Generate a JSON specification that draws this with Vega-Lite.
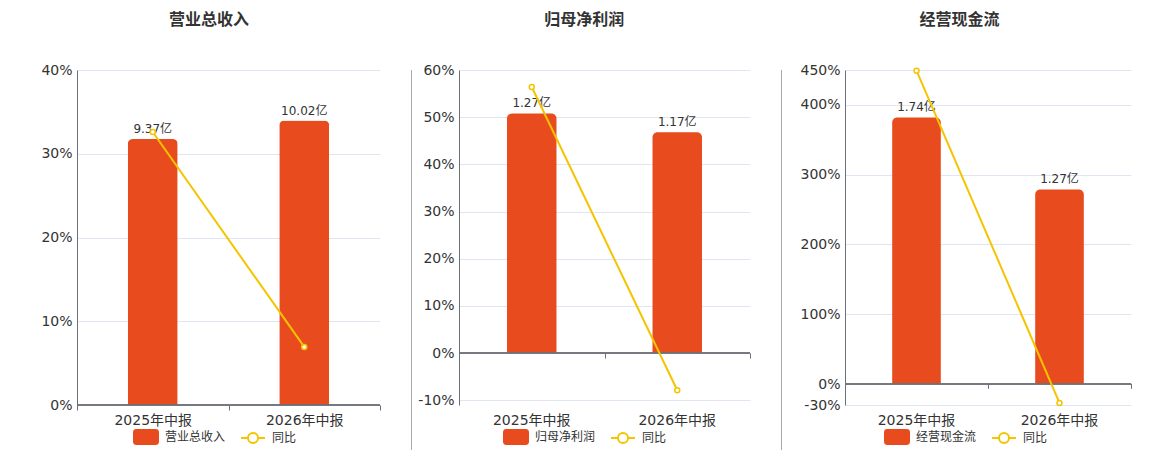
{
  "$schema": "https://vega.github.io/schema/vega-lite/v6.json",
  "padding": {"left": 37, "top": 12, "right": 5, "bottom": 0},
  "background": "#ffffff",
  "datasets": {
    "rev": [
      {"期": "2025年中报", "值": 9.37, "标签": "9.37亿", "同比": 32.6},
      {"期": "2026年中报", "值": 10.02, "标签": "10.02亿", "同比": 6.94}
    ],
    "profit": [
      {"期": "2025年中报", "值": 1.27, "标签": "1.27亿", "同比": 56.4},
      {"期": "2026年中报", "值": 1.17, "标签": "1.17亿", "同比": -7.87}
    ],
    "cash": [
      {"期": "2025年中报", "值": 1.74, "标签": "1.74亿", "同比": 449},
      {"期": "2026年中报", "值": 1.27, "标签": "1.27亿", "同比": -27.0}
    ]
  },
  "spacing": 5,
  "resolve": {"scale": {"color": "independent"}, "legend": {"color": "independent"}},
  "hconcat": [
    {
      "spacing": 30,
      "resolve": {"scale": {"color": "independent"}, "legend": {"color": "independent"}},
      "hconcat": [
        {
          "width": 303,
          "height": 335,
          "title": {"text": "营业总收入"},
          "data": {"name": "rev"},
          "layer": [
            {
              "encoding": {
                "x": {"field": "期", "type": "nominal", "sort": null,
                  "scale": {"paddingInner": 0, "paddingOuter": 0},
                  "axis": {"title": null, "labelAngle": 0, "domain": false, "ticks": true, "tickBand": "extent", "tickSize": 5, "tickColor": "#6E7079", "labelPadding": 3}},
                "y": {"field": "值", "type": "quantitative", "scale": {"domain": [0, 11.8], "nice": false, "zero": false}, "axis": null}},
              "layer": [
                {"mark": {"type": "bar", "width": {"band": 0.33}, "cornerRadiusTopLeft": 5, "cornerRadiusTopRight": 5},
                 "encoding": {"color": {"datum": "营业总收入", "type": "nominal",
                   "scale": {"domain": ["营业总收入", "同比"], "range": ["#E84C1E", "#F5C400"]},
                   "legend": {"title": null, "orient": "none", "legendX": 56, "legendY": 354, "padding": 0, "direction": "horizontal", "symbolSize": 576, "symbolStrokeWidth": 2, "labelFontSize": 12, "labelColor": "#333333", "labelOffset": 6, "columnPadding": 11,
                     "encode": {"symbols": {"update": {
                       "shape": {"signal": "datum.value === '同比' ? 'M-1,0L-0.42,0M0.42,0L1,0M0.42,0A0.42,0.42,0,1,1,-0.42,0A0.42,0.42,0,1,1,0.42,0' : 'M-0.8,-0.58L0.8,-0.58Q1,-0.58,1,-0.38L1,0.38Q1,0.58,0.8,0.58L-0.8,0.58Q-1,0.58,-1,0.38L-1,-0.38Q-1,-0.58,-0.8,-0.58Z'"},
                       "fill": {"signal": "datum.value === '同比' ? '#ffffff' : '#E84C1E'"},
                       "fillOpacity": {"signal": "datum.value === '同比' ? 0 : 1"},
                       "stroke": {"signal": "datum.value === '同比' ? '#F5C400' : 'transparent'"},
                       "strokeWidth": {"value": 2},
                       "opacity": {"value": 1}
                     }}}}}}},
                {"mark": {"type": "text", "baseline": "middle", "dy": -10, "fontSize": 12, "color": "#333333"},
                 "encoding": {"text": {"field": "标签"}}}
              ]
            },
            {
              "layer": [
                {"mark": {"type": "rule", "color": "#6E7079", "strokeWidth": 1.5},
                 "encoding": {"y": {"datum": 0, "type": "quantitative", "scale": {"domain": [0, 40], "nice": false}}}},
                {"mark": {"type": "line", "strokeWidth": 2},
                 "encoding": {
                   "x": {"field": "期", "type": "nominal", "sort": null},
                   "y": {"field": "同比", "type": "quantitative", "scale": {"domain": [0, 40], "nice": false},
                     "axis": {"title": null, "values": [0, 10, 20, 30, 40], "labelExpr": "datum.value + '%'", "grid": true, "ticks": false, "domain": true, "minExtent": 40, "maxExtent": 40}},
                   "color": {"datum": "同比", "type": "nominal"}}},
                {"mark": {"type": "point", "filled": true, "fill": "#ffffff", "stroke": "#F5C400", "strokeWidth": 1.5, "size": 25, "opacity": 1},
                 "encoding": {
                   "x": {"field": "期", "type": "nominal", "sort": null},
                   "y": {"field": "同比", "type": "quantitative"}}}
              ]
            }
          ],
          "resolve": {"scale": {"y": "independent"}}
        },
        {
          "width": 1, "height": 433,
          "data": {"values": []},
          "mark": "point",
          "encoding": {},
          "view": {"fill": "#A8A8A4", "stroke": null}
        }
      ]
    },
    {
      "spacing": 30,
      "resolve": {"scale": {"color": "independent"}, "legend": {"color": "independent"}},
      "hconcat": [
        {
          "width": 291,
          "height": 335,
          "title": {"text": "归母净利润"},
          "data": {"name": "profit"},
          "layer": [
            {
              "encoding": {
                "x": {"field": "期", "type": "nominal", "sort": null,
                  "scale": {"paddingInner": 0, "paddingOuter": 0},
                  "axis": {"title": null, "labelAngle": 0, "domain": false, "ticks": false, "labelPadding": 8}},
                "y": {"field": "值", "type": "quantitative", "scale": {"domain": [-0.275, 1.5], "nice": false, "zero": false}, "axis": null}},
              "layer": [
                {"mark": {"type": "bar", "width": {"band": 0.34}, "cornerRadiusTopLeft": 5, "cornerRadiusTopRight": 5},
                 "encoding": {
                   "y2": {"datum": 0},
                   "color": {"datum": "归母净利润", "type": "nominal",
                   "scale": {"domain": ["归母净利润", "同比"], "range": ["#E84C1E", "#F5C400"]},
                   "legend": {"title": null, "orient": "none", "legendX": 44, "legendY": 354, "padding": 0, "direction": "horizontal", "symbolSize": 576, "symbolStrokeWidth": 2, "labelFontSize": 12, "labelColor": "#333333", "labelOffset": 6, "columnPadding": 11,
                     "encode": {"symbols": {"update": {
                       "shape": {"signal": "datum.value === '同比' ? 'M-1,0L-0.42,0M0.42,0L1,0M0.42,0A0.42,0.42,0,1,1,-0.42,0A0.42,0.42,0,1,1,0.42,0' : 'M-0.8,-0.58L0.8,-0.58Q1,-0.58,1,-0.38L1,0.38Q1,0.58,0.8,0.58L-0.8,0.58Q-1,0.58,-1,0.38L-1,-0.38Q-1,-0.58,-0.8,-0.58Z'"},
                       "fill": {"signal": "datum.value === '同比' ? '#ffffff' : '#E84C1E'"},
                       "fillOpacity": {"signal": "datum.value === '同比' ? 0 : 1"},
                       "stroke": {"signal": "datum.value === '同比' ? '#F5C400' : 'transparent'"},
                       "strokeWidth": {"value": 2},
                       "opacity": {"value": 1}
                     }}}}}}},
                {"mark": {"type": "text", "baseline": "middle", "dy": -10, "fontSize": 12, "color": "#333333"},
                 "encoding": {"text": {"field": "标签"}}}
              ]
            },
            {
              "layer": [
                {"mark": {"type": "rule", "color": "#6E7079", "strokeWidth": 1.5},
                 "encoding": {"y": {"datum": 0, "type": "quantitative", "scale": {"domain": [-11, 60], "nice": false}}}},
                {"mark": {"type": "line", "strokeWidth": 2},
                 "encoding": {
                   "x": {"field": "期", "type": "nominal", "sort": null,
                     "axis": {"orient": "bottom", "offset": -52, "title": null, "labels": false, "domain": false, "ticks": true, "tickBand": "extent", "tickSize": 5, "tickColor": "#6E7079", "grid": false}},
                   "y": {"field": "同比", "type": "quantitative", "scale": {"domain": [-11, 60], "nice": false},
                     "axis": {"title": null, "values": [-10, 0, 10, 20, 30, 40, 50, 60], "labelExpr": "datum.value + '%'", "grid": true, "ticks": false, "domain": true, "minExtent": 40, "maxExtent": 40}},
                   "color": {"datum": "同比", "type": "nominal"}}},
                {"mark": {"type": "point", "filled": true, "fill": "#ffffff", "stroke": "#F5C400", "strokeWidth": 1.5, "size": 25, "opacity": 1},
                 "encoding": {
                   "x": {"field": "期", "type": "nominal", "sort": null},
                   "y": {"field": "同比", "type": "quantitative"}}}
              ],
              "resolve": {"axis": {"x": "shared"}}
            }
          ],
          "resolve": {"scale": {"y": "independent"}, "axis": {"x": "independent"}}
        },
        {
          "width": 1, "height": 433,
          "data": {"values": []},
          "mark": "point",
          "encoding": {},
          "view": {"fill": "#A8A8A4", "stroke": null}
        }
      ]
    },
    {
      "width": 286,
      "height": 335,
      "title": {"text": "经营现金流"},
      "data": {"name": "cash"},
      "layer": [
        {
          "encoding": {
            "x": {"field": "期", "type": "nominal", "sort": null,
              "scale": {"paddingInner": 0, "paddingOuter": 0},
              "axis": {"title": null, "labelAngle": 0, "domain": false, "ticks": false, "labelPadding": 8}},
            "y": {"field": "值", "type": "quantitative", "scale": {"domain": [-0.1367, 2.05], "nice": false, "zero": false}, "axis": null}},
          "layer": [
            {"mark": {"type": "bar", "width": {"band": 0.34}, "cornerRadiusTopLeft": 5, "cornerRadiusTopRight": 5},
             "encoding": {
               "y2": {"datum": 0},
               "color": {"datum": "经营现金流", "type": "nominal",
               "scale": {"domain": ["经营现金流", "同比"], "range": ["#E84C1E", "#F5C400"]},
               "legend": {"title": null, "orient": "none", "legendX": 39, "legendY": 354, "padding": 0, "direction": "horizontal", "symbolSize": 576, "symbolStrokeWidth": 2, "labelFontSize": 12, "labelColor": "#333333", "labelOffset": 6, "columnPadding": 11,
                 "encode": {"symbols": {"update": {
                   "shape": {"signal": "datum.value === '同比' ? 'M-1,0L-0.42,0M0.42,0L1,0M0.42,0A0.42,0.42,0,1,1,-0.42,0A0.42,0.42,0,1,1,0.42,0' : 'M-0.8,-0.58L0.8,-0.58Q1,-0.58,1,-0.38L1,0.38Q1,0.58,0.8,0.58L-0.8,0.58Q-1,0.58,-1,0.38L-1,-0.38Q-1,-0.58,-0.8,-0.58Z'"},
                   "fill": {"signal": "datum.value === '同比' ? '#ffffff' : '#E84C1E'"},
                   "fillOpacity": {"signal": "datum.value === '同比' ? 0 : 1"},
                   "stroke": {"signal": "datum.value === '同比' ? '#F5C400' : 'transparent'"},
                   "strokeWidth": {"value": 2},
                   "opacity": {"value": 1}
                 }}}}}}},
            {"mark": {"type": "text", "baseline": "middle", "dy": -10, "fontSize": 12, "color": "#333333"},
             "encoding": {"text": {"field": "标签"}}}
          ]
        },
        {
          "layer": [
            {"mark": {"type": "rule", "color": "#6E7079", "strokeWidth": 1.5},
             "encoding": {"y": {"datum": 0, "type": "quantitative", "scale": {"domain": [-30, 450], "nice": false}}}},
            {"mark": {"type": "line", "strokeWidth": 2},
             "encoding": {
               "x": {"field": "期", "type": "nominal", "sort": null,
                 "axis": {"orient": "bottom", "offset": -21.7, "title": null, "labels": false, "domain": false, "ticks": true, "tickBand": "extent", "tickSize": 5, "tickColor": "#6E7079", "grid": false}},
               "y": {"field": "同比", "type": "quantitative", "scale": {"domain": [-30, 450], "nice": false},
                 "axis": {"title": null, "values": [-30, 0, 100, 200, 300, 400, 450], "labelExpr": "datum.value + '%'", "grid": true, "ticks": false, "domain": true, "minExtent": 58, "maxExtent": 58}},
               "color": {"datum": "同比", "type": "nominal"}}},
            {"mark": {"type": "point", "filled": true, "fill": "#ffffff", "stroke": "#F5C400", "strokeWidth": 1.5, "size": 25, "opacity": 1},
             "encoding": {
               "x": {"field": "期", "type": "nominal", "sort": null},
               "y": {"field": "同比", "type": "quantitative"}}}
          ],
          "resolve": {"axis": {"x": "shared"}}
        }
      ],
      "resolve": {"scale": {"y": "independent"}, "axis": {"x": "independent"}}
    }
  ],
  "config": {
    "font": "DejaVu Sans, Noto Sans CJK SC, sans-serif",
    "view": {"stroke": null},
    "title": {"fontSize": 16, "fontWeight": "bold", "color": "#333333", "anchor": "middle", "frame": "bounds", "offset": 35},
    "axis": {"labelFontSize": 14, "labelColor": "#333333", "domainColor": "#6E7079", "domainWidth": 1, "gridColor": "#E0E6F1", "gridWidth": 1, "labelPadding": 5}
  }
}
